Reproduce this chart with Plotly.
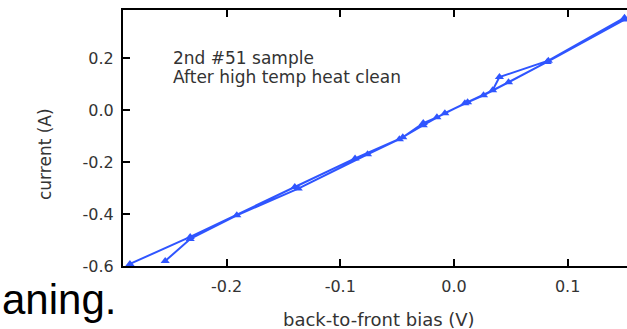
import plotly.graph_objects as go

# Sweep data (bias V, current A), in sweep order
bias = [-0.285, -0.232, -0.140, -0.087, -0.045, -0.027, -0.015, 0.0096, 0.034, 0.040, 0.083, 0.150,
        0.150, 0.082, 0.048, 0.026, 0.012, -0.008, -0.027, -0.048, -0.076, -0.137, -0.191, -0.232, -0.254]
current = [-0.592, -0.488, -0.296, -0.186, -0.105, -0.050, -0.028, 0.026, 0.076, 0.127, 0.190, 0.355,
           0.348, 0.185, 0.107, 0.057, 0.030, -0.012, -0.058, -0.112, -0.170, -0.302, -0.405, -0.496, -0.581]

x_ticks = [-0.2, -0.1, 0.0, 0.1]
x_labels = ["-0.2", "-0.1", "0.0", "0.1"]
y_ticks = [-0.6, -0.4, -0.2, 0.0, 0.2]
y_labels = ["-0.6", "-0.4", "-0.2", "0.0", "0.2"]

note_lines = ["2nd #51 sample", "After high temp heat clean"]

BLUE = "#2f55ff"
TXT = "#333333"
FONT = "DejaVu Sans"

fig = go.Figure()
fig.add_trace(go.Scatter(
    x=bias, y=current, mode="lines+markers",
    line=dict(color=BLUE, width=2),
    marker=dict(symbol="triangle-up", size=8, color=BLUE),
    showlegend=False, cliponaxis=False,
))

axis_common = dict(
    showgrid=False, zeroline=False, showline=True, linecolor="black", linewidth=2,
    ticks="inside", ticklen=7, tickwidth=1.5, tickcolor="black",
    tickfont=dict(family=FONT, size=16, color=TXT),
)

fig.update_xaxes(range=[-0.2911, 0.1522], tickmode="array", tickvals=x_ticks, ticktext=x_labels,
                 mirror="ticks", ticklabelstandoff=5, **axis_common)
fig.update_yaxes(range=[-0.6, 0.385], tickmode="array", tickvals=y_ticks, ticktext=y_labels,
                 mirror=False, ticklabelstandoff=4, **axis_common)

W, H = 627, 329
L, R, T, B = 123, 0, 10, 63

def px(xp):
    return (xp - L) / (W - L - R)

def py(yp):
    return (H - B - yp) / (H - T - B)

annotations = [
    dict(text=note_lines[0], x=px(171), y=py(58), xanchor="left", yanchor="middle",
         font=dict(family=FONT, size=17, color=TXT)),
    dict(text=note_lines[1], x=px(171), y=py(77), xanchor="left", yanchor="middle",
         font=dict(family=FONT, size=17, color=TXT)),
    dict(text="current (A)", x=px(45), y=py(154), textangle=-90, xanchor="center", yanchor="middle",
         font=dict(family=FONT, size=17, color=TXT)),
    dict(text="back-to-front bias (V)", x=px(379), y=py(319), xanchor="center", yanchor="middle",
         font=dict(family=FONT, size=18, color=TXT)),
    dict(text="aning.", x=px(0), y=py(299), xanchor="left", yanchor="middle",
         font=dict(family="Liberation Sans", size=42, color="black")),
]
for a in annotations:
    a.update(xref="paper", yref="paper", showarrow=False)

fig.update_layout(
    width=W, height=H, margin=dict(l=L, r=R, t=T, b=B, pad=0),
    paper_bgcolor="white", plot_bgcolor="white",
    annotations=annotations,
)

fig.write_html("out.html")
